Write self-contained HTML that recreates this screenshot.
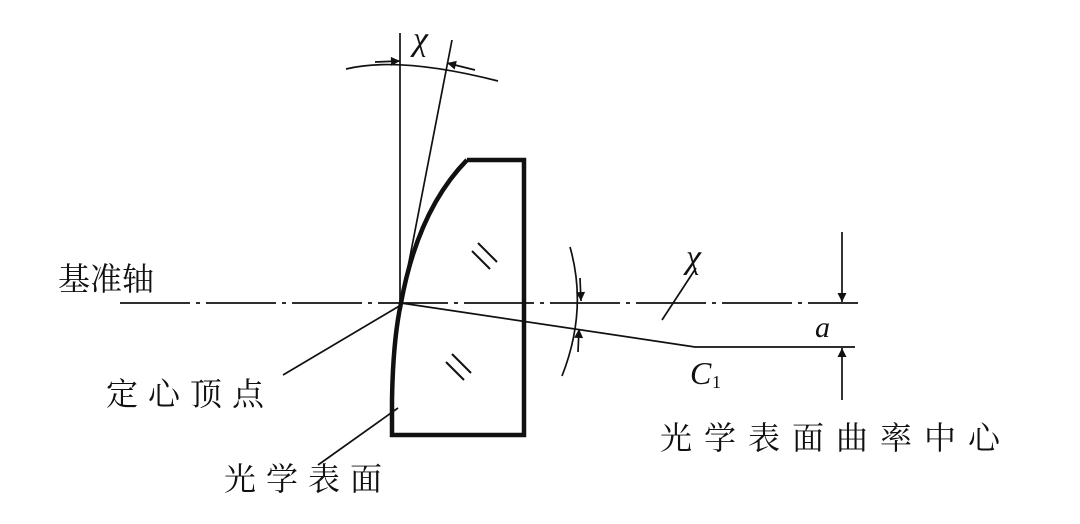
<!DOCTYPE html>
<html><head><meta charset="utf-8"><style>
body{margin:0;background:#fff;}
svg{display:block;}
text{font-family:"Liberation Serif","Noto Serif CJK SC",serif;fill:#111;}
.cn{font-family:"Liberation Serif","Noto Serif CJK SC",serif;font-size:32px;}
</style></head><body>
<svg width="1080" height="524" viewBox="0 0 1080 524" xmlns="http://www.w3.org/2000/svg">
<defs>
<marker id="ar" viewBox="0 0 10 10" refX="10" refY="5" markerWidth="18" markerHeight="9" markerUnits="userSpaceOnUse" orient="auto"><path d="M0,0L10,5L0,10z" fill="#111"/></marker>
</defs>
<g stroke="#111" fill="none" stroke-width="1.7">
<line x1="120" y1="303" x2="858" y2="303" stroke-dasharray="70,6,4,6"/>
<line x1="400" y1="33" x2="400" y2="303"/>
<line x1="401" y1="303" x2="452" y2="40"/>
<path d="M346,69 Q400,56 498,81"/>
<line x1="375" y1="62" x2="400" y2="61" marker-end="url(#ar)"/>
<line x1="475" y1="70" x2="447" y2="63" marker-end="url(#ar)"/>
<path d="M467,160 L524,160 L524,435 L392,435 L392,400 Q393,340 401,303 Q418,210 467,160" stroke-width="4.5" stroke-linejoin="miter"/>
<line x1="478" y1="243" x2="497" y2="262" stroke-width="2"/>
<line x1="472" y1="251" x2="490" y2="269" stroke-width="2"/>
<line x1="452" y1="354" x2="471" y2="373" stroke-width="2"/>
<line x1="446" y1="362" x2="464" y2="380" stroke-width="2"/>
<polyline points="401,303 695,347 855,347"/>
<path d="M570,247 Q588,310 562,376"/>
<line x1="580" y1="278" x2="581" y2="301" marker-end="url(#ar)"/>
<line x1="578" y1="352" x2="579" y2="329" marker-end="url(#ar)"/>
<line x1="662" y1="320" x2="696" y2="268"/>
<line x1="842" y1="232" x2="842" y2="302" marker-end="url(#ar)"/>
<line x1="842" y1="400" x2="842" y2="348" marker-end="url(#ar)"/>
<line x1="401" y1="305" x2="283" y2="375"/>
<line x1="398" y1="408" x2="318" y2="465"/>
</g>
<text x="413" y="50" font-size="34" font-style="italic">χ</text>
<text x="686" y="268" font-size="34" font-style="italic">χ</text>
<text x="815" y="337" font-size="30" font-style="italic">a</text>
<text x="690" y="384" font-size="32" font-style="italic">C</text>
<text x="712" y="388" font-size="18">1</text>
<text class="cn" x="58" y="290">基准轴</text>
<text class="cn" x="106" y="405" letter-spacing="10">定心顶点</text>
<text class="cn" x="224" y="490" letter-spacing="10">光学表面</text>
<text class="cn" x="660" y="449" letter-spacing="12">光学表面曲率中心</text>
</svg>
</body></html>
